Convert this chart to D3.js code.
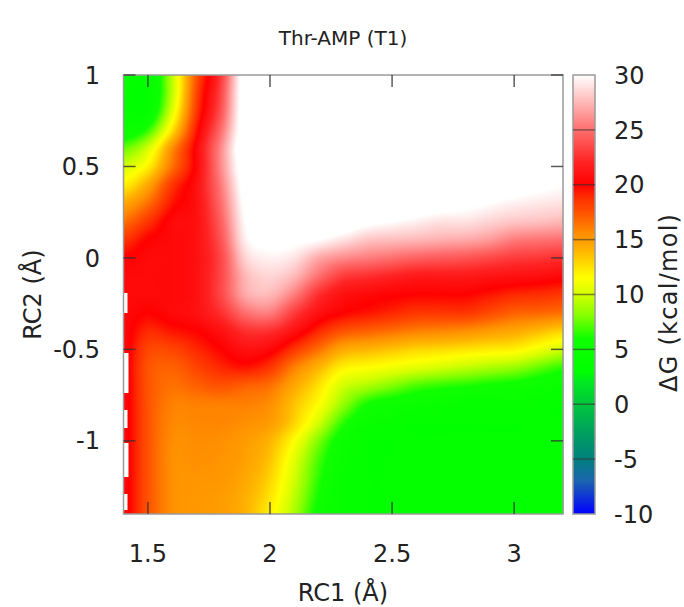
<!DOCTYPE html>
<html>
<head>
<meta charset="utf-8">
<script src="https://cdn.jsdelivr.net/npm/d3@7/dist/d3.min.js"></script>
<style>
body { margin: 0; background: #fff; }
text { font-family: "DejaVu Sans", sans-serif; fill: #222; }
</style>
</head>
<body>
<div id="chart"></div>
<script>
// grid of the free energy surface
var rc1Values = [1.4, 1.5, 1.6, 1.7, 1.8, 1.9, 2.0, 2.1, 2.2, 2.3, 2.4, 2.5, 2.6, 2.7, 2.8, 2.9, 3.0, 3.1, 3.2]
var rc2Values = [1.0, 0.9, 0.8, 0.7, 0.6, 0.5, 0.4, 0.3, 0.2, 0.1, 0.0, -0.1, -0.2, -0.3, -0.4, -0.5, -0.6, -0.7, -0.8, -0.9, -1.0, -1.1, -1.2, -1.3, -1.4]
// deltaG[row][col], row follows rc2Values, col follows rc1Values (kcal/mol)
var deltaG = [
  [4, 3.5, 9.5, 17.5, 23, 31.5, 33, 33, 33, 33, 33, 33, 33, 33, 33, 33, 33, 33, 33],
  [3.5, 3.5, 9.5, 18, 23.5, 31.5, 33, 33, 33, 33, 33, 33, 33, 33, 33, 33, 33, 33, 33],
  [3.5, 4, 10.5, 18.5, 24, 31.5, 33, 33, 33, 33, 33, 33, 33, 33, 33, 33, 33, 33, 33],
  [4.5, 6.5, 12.5, 19.5, 25, 31.5, 33, 33, 33, 33, 33, 33, 33, 33, 33, 33, 33, 33, 32.5],
  [7.5, 10, 15.5, 20.5, 26, 32, 33, 33, 33, 33, 33, 33, 33, 33, 33, 33, 33, 32.5, 32],
  [10, 12, 16.5, 20.5, 26, 31.5, 33, 33, 33, 33, 33, 33, 33, 33, 33, 32.5, 32, 31.5, 31],
  [12, 14.5, 18.5, 21, 25.5, 31, 33, 33, 33, 33, 33, 33, 32.5, 32.5, 32, 31.5, 31, 30.5, 30],
  [14.5, 16.5, 19.5, 21, 25, 30.5, 32.5, 33, 33, 33, 32.5, 32, 31.5, 31, 30.5, 30, 29.5, 29.2, 29],
  [16.5, 18.5, 20.5, 21, 24.5, 30, 31.5, 32, 32, 31.5, 30.5, 30, 29.5, 29, 29, 28.5, 28, 27.8, 27.5],
  [18.5, 20, 20.5, 21, 24, 29.5, 30.5, 30.5, 30, 29, 28, 27.7, 27.5, 27.2, 27, 26.5, 25.5, 25.2, 25],
  [20, 20.5, 20.5, 21, 23.5, 28.5, 29.5, 29, 27, 26, 25.5, 25, 24.5, 24.2, 24, 23.5, 23, 22.8, 22.5],
  [20.5, 20.5, 20.5, 21, 23.5, 27.5, 28.5, 27.5, 25, 23, 22.5, 22, 21.5, 21.5, 21.5, 21.2, 21, 20.8, 20.5],
  [20.5, 20.5, 20.5, 21, 23.5, 27, 27.5, 25.5, 22.5, 21, 20.5, 20.2, 20, 20, 20, 19.5, 19, 18.8, 18.5],
  [20.5, 20, 20.5, 21, 22.5, 25, 25.5, 23, 21, 20, 19.5, 19, 18.5, 18.5, 18.5, 17.8, 17, 16.8, 16.5],
  [20.5, 19, 19.5, 20, 21, 22.5, 22.5, 21, 19, 17.5, 17, 16.5, 16, 15.8, 15.5, 15, 14.5, 13.8, 13],
  [20.5, 18, 18, 19, 20, 21, 20.5, 18.5, 16.5, 14.5, 14, 13.5, 13, 12.8, 12.5, 12.2, 12, 11, 10],
  [20.5, 17.5, 17, 18, 19, 19.5, 18.5, 16, 14, 12, 11.5, 11, 10.5, 10, 9.5, 9, 8.5, 7.5, 6.5],
  [20.5, 17.5, 16.5, 17, 17.5, 17, 16.5, 14.5, 12.5, 10, 9, 8, 7, 6.5, 6.2, 5.8, 5.5, 5, 4.5],
  [20.5, 17.5, 16, 16, 16, 16, 15.5, 13.5, 11.5, 8.5, 6, 5.2, 4.7, 4.3, 4, 4, 4, 3.8, 3.5],
  [20.5, 17.5, 15.8, 15.8, 15.8, 15.5, 15, 13, 10, 6.5, 4.5, 4, 3.5, 3.5, 3.5, 3.5, 3.5, 3.5, 3.5],
  [20.5, 17.5, 15.6, 15.6, 15.5, 15, 14, 11.5, 8, 5, 3.5, 3.5, 3.5, 3.5, 3.5, 3.5, 3.5, 3.5, 3.5],
  [20.5, 17.5, 15.5, 15.5, 15.3, 14.8, 13.5, 10.5, 7, 4.5, 3.5, 3.5, 3.5, 3.5, 3.5, 3.5, 3.5, 3.5, 3.5],
  [20.5, 17.5, 15.5, 15.3, 15.2, 14.5, 13, 10, 6.5, 4, 3.5, 3.5, 3.5, 3.5, 3.5, 3.5, 3.5, 3.5, 3.5],
  [20.5, 17.5, 15.5, 15.2, 15, 14.2, 12.5, 9.5, 6, 4, 3.5, 3.5, 3.5, 3.5, 3.5, 3.5, 3.5, 3.5, 3.5],
  [20.5, 17.5, 15.5, 15.2, 15, 14, 12, 9, 5.5, 4, 3.5, 3.5, 3.5, 3.5, 3.5, 3.5, 3.5, 3.5, 3.5]
]
// unsampled bits along the left edge: [rc2 top, rc2 bottom, rc1 where data starts]
var noDataLeft = [[-0.19, -0.30, 1.415], [-0.52, -0.74, 1.422], [-0.83, -0.93, 1.418], [-1.01, -1.20, 1.422], [-1.29, -1.38, 1.418]]

var xTicks = [1.5, 2, 2.5, 3]
var yTicks = [-1, -0.5, 0, 0.5, 1]
var cbTicks = [-10, -5, 0, 5, 10, 15, 20, 25, 30]
var paletteStops = [-10, -7, -5, -3, 0, 2, 3, 6, 8, 10, 11.5, 12.5, 14, 15.5, 17, 19, 20, 22, 25, 28, 30]
var paletteColors = ["#0000ff", "#1c64b0", "#00807c", "#009a64", "#00c63c", "#00e820", "#00ff00", "#10ff00", "#80ff00",
  "#d4ff00", "#ffff00", "#ffe400", "#ffb400", "#ff9000", "#ff6000", "#ff2800", "#ff0000", "#ff2222", "#ff6e6e", "#ffc6c6", "#ffffff"]

var width = 684, height = 607
var plot = {left: 123.5, right: 563, top: 75, bottom: 514}
var bar = {left: 573, right: 595}

var svg = d3.select("#chart").append("svg")
  .attr("width", width).attr("height", height)

var x = d3.scaleLinear().domain([1.4, 3.2]).range([plot.left, plot.right])
var y = d3.scaleLinear().domain([-1.4, 1]).range([plot.bottom, plot.top])
var cb = d3.scaleLinear().domain([-10, 30]).range([plot.bottom, plot.top])
var color = d3.scaleLinear().domain(paletteStops).range(paletteColors)
  .interpolate(d3.interpolateRgb).clamp(true)

// grid index scales
var col = d3.scaleLinear().domain([rc1Values[0], rc1Values[rc1Values.length - 1]]).range([0, rc1Values.length - 1])
var row = d3.scaleLinear().domain([rc2Values[0], rc2Values[rc2Values.length - 1]]).range([0, rc2Values.length - 1])

function cr(p0, p1, p2, p3, t) {
  return 0.5 * (2 * p1 + (p2 - p0) * t + (2 * p0 - 5 * p1 + 4 * p2 - p3) * t * t + (3 * p1 - p0 - 3 * p2 + p3) * t * t * t)
}
function cell(r, c) {
  r = Math.max(0, Math.min(rc2Values.length - 1, r))
  c = Math.max(0, Math.min(rc1Values.length - 1, c))
  return deltaG[r][c]
}
function valueAt(rc1, rc2) {
  var fc = col(rc1), fr = row(rc2)
  var c = Math.floor(fc), r = Math.floor(fr)
  var tc = fc - c, tr = fr - r
  var rows = []
  for (var i = -1; i <= 2; i++) {
    rows.push(cr(cell(r + i, c - 1), cell(r + i, c), cell(r + i, c + 1), cell(r + i, c + 2), tc))
  }
  return cr(rows[0], rows[1], rows[2], rows[3], tr)
}
function missing(rc1, rc2) {
  return noDataLeft.some(function(g) { return rc2 <= g[0] && rc2 >= g[1] && rc1 < g[2] })
}

// paint the surface into a canvas, pixel by pixel through the scales
var pw = Math.round(plot.right - plot.left), ph = Math.round(plot.bottom - plot.top)
var canvas = document.createElement("canvas")
canvas.width = pw; canvas.height = ph
var ctx = canvas.getContext("2d")
var img = ctx.createImageData(pw, ph)
for (var j = 0; j < ph; j++) {
  var v2 = y.invert(plot.top + j + 0.5)
  for (var i = 0; i < pw; i++) {
    var v1 = x.invert(plot.left + i + 0.5)
    var c = missing(v1, v2) ? d3.rgb("#ffffff") : d3.rgb(color(valueAt(v1, v2)))
    var k = (j * pw + i) * 4
    img.data[k] = c.r; img.data[k + 1] = c.g; img.data[k + 2] = c.b; img.data[k + 3] = 255
  }
}
ctx.putImageData(img, 0, 0)

svg.append("image")
  .attr("x", plot.left).attr("y", plot.top)
  .attr("width", pw).attr("height", ph)
  .attr("preserveAspectRatio", "none")
  .attr("href", canvas.toDataURL())

// frame
svg.append("rect")
  .attr("x", plot.left).attr("y", plot.top)
  .attr("width", plot.right - plot.left).attr("height", plot.bottom - plot.top)
  .attr("fill", "none").attr("stroke", "#9a9a9a").attr("stroke-width", 1.5)

var tickLen = 12
var ticks = svg.append("g").attr("stroke", "#333").attr("stroke-opacity", 0.8).attr("stroke-width", 1.5)
xTicks.forEach(function(t) {
  ticks.append("line").attr("x1", x(t)).attr("x2", x(t)).attr("y1", plot.bottom).attr("y2", plot.bottom - tickLen)
  ticks.append("line").attr("x1", x(t)).attr("x2", x(t)).attr("y1", plot.top).attr("y2", plot.top + tickLen)
})
yTicks.forEach(function(t) {
  ticks.append("line").attr("y1", y(t)).attr("y2", y(t)).attr("x1", plot.left).attr("x2", plot.left + tickLen)
  ticks.append("line").attr("y1", y(t)).attr("y2", y(t)).attr("x1", plot.right).attr("x2", plot.right - tickLen)
})

svg.append("g").selectAll("text").data(xTicks).enter().append("text")
  .attr("x", function(d) { return x(d) }).attr("y", 562)
  .attr("text-anchor", "middle").attr("font-size", 24)
  .text(function(d) { return d })

svg.append("g").selectAll("text").data(yTicks).enter().append("text")
  .attr("x", 100).attr("y", function(d) { return y(d) })
  .attr("dy", "0.36em").attr("text-anchor", "end").attr("font-size", 24)
  .text(function(d) { return d })

// colour box
var grad = svg.append("defs").append("linearGradient").attr("id", "cbgrad")
  .attr("x1", 0).attr("y1", 1).attr("x2", 0).attr("y2", 0)
d3.range(-10, 30.01, 0.5).forEach(function(v) {
  grad.append("stop").attr("offset", (v + 10) / 40).attr("stop-color", color(v))
})
svg.append("rect")
  .attr("x", bar.left).attr("y", cb(30))
  .attr("width", bar.right - bar.left).attr("height", cb(-10) - cb(30))
  .attr("fill", "url(#cbgrad)").attr("stroke", "#9a9a9a").attr("stroke-width", 1.5)
svg.append("g").attr("stroke", "#333").attr("stroke-opacity", 0.6).attr("stroke-width", 1.5)
  .selectAll("line").data(cbTicks.slice(1, -1)).enter().append("line")
  .attr("x1", bar.left).attr("x2", bar.right)
  .attr("y1", function(d) { return cb(d) }).attr("y2", function(d) { return cb(d) })
svg.append("g").selectAll("text").data(cbTicks).enter().append("text")
  .attr("x", 614).attr("y", function(d) { return cb(d) })
  .attr("dy", "0.36em").attr("font-size", 24)
  .text(function(d) { return d })

// titles
svg.append("text").attr("x", 343).attr("y", 45).attr("text-anchor", "middle")
  .attr("font-size", 20).text("Thr-AMP (T1)")
svg.append("text").attr("x", 343).attr("y", 601).attr("text-anchor", "middle")
  .attr("font-size", 24).text("RC1 (Å)")
svg.append("text").attr("transform", "translate(41," + ((plot.top + plot.bottom) / 2) + ") rotate(-90)")
  .attr("text-anchor", "middle").attr("font-size", 24).text("RC2 (Å)")
svg.append("text").attr("transform", "translate(677,303) rotate(-90)")
  .attr("text-anchor", "middle").attr("font-size", 24)
  .attr("textLength", 178).attr("lengthAdjust", "spacing").text("ΔG (kcal/mol)")
</script>
</body>
</html>
